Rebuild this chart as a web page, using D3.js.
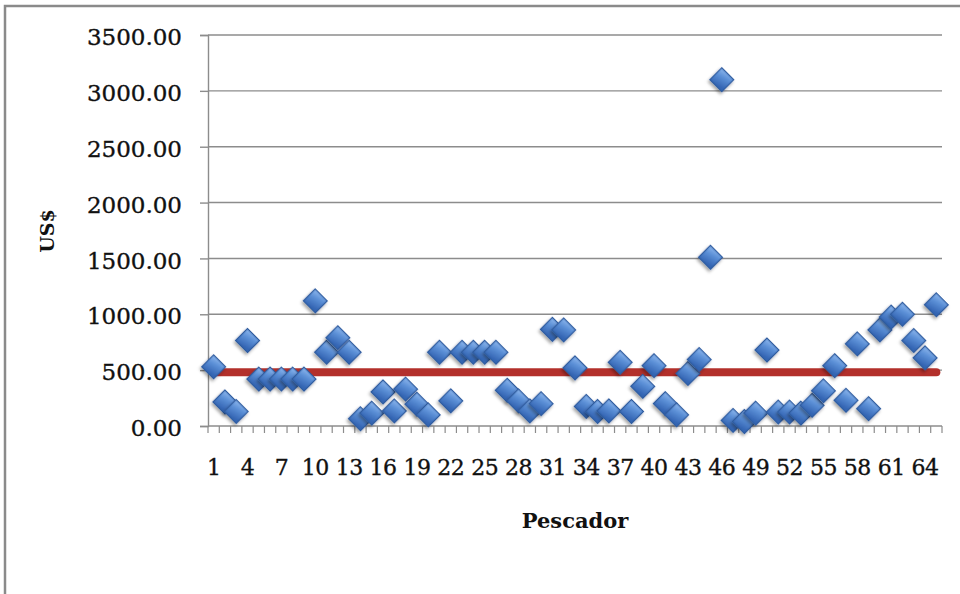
<!DOCTYPE html>
<html>
<head>
<meta charset="utf-8">
<script src="https://cdn.jsdelivr.net/npm/d3@7"></script>
<style>
  html, body { margin: 0; padding: 0; background: #ffffff; }
  svg { display: block; }
</style>
</head>
<body>
<div id="chart"></div>
<script>
// ---- data ----
const categories = d3.range(1, 66).map(String);
const values = [
  530, 215, 130, 765, 420, 420, 420, 420, 420, 1120,
  660, 790, 660, 65, 115, 305, 135, 330, 195, 100,
  660, 225, 660, 660, 660, 660, 320, 225, 135, 200,
  865, 860, 520, 175, 130, 135, 570, 130, 355, 540,
  200, 100, 470, 595, 1510, 3100, 50, 40, 115, 680,
  125, 125, 115, 185, 315, 540, 230, 735, 155, 860,
  975, 1000, 765, 610, 1085
];
const promedio = 482;
const yTicks = [0, 500, 1000, 1500, 2000, 2500, 3000, 3500];
const xTickLabels = categories.filter((d, i) => i % 3 === 0);
const yTitle = "US$";
const xTitle = "Pescador";

// ---- layout ----
const W = 960, H = 594;
const plot = { left: 208, right: 942, top: 35, bottom: 426 };

const svg = d3.select("#chart").append("svg")
  .attr("width", W).attr("height", H);

const defs = svg.append("defs");
const grad = defs.append("linearGradient").attr("id", "dgrad")
  .attr("x1", "0").attr("y1", "0").attr("x2", "0.3").attr("y2", "1");
grad.append("stop").attr("offset", "0%").attr("stop-color", "#8fb8ee");
grad.append("stop").attr("offset", "45%").attr("stop-color", "#5b8fd6");
grad.append("stop").attr("offset", "100%").attr("stop-color", "#3566b4");
const shadow = defs.append("filter").attr("id", "shadow")
  .attr("x", "-50%").attr("y", "-50%").attr("width", "200%").attr("height", "200%");
shadow.append("feDropShadow").attr("dx", 0.5).attr("dy", 2.5)
  .attr("stdDeviation", 1.6).attr("flood-color", "#000").attr("flood-opacity", 0.35);

// outer frame
svg.append("rect")
  .attr("x", 5).attr("y", 6).attr("width", 1000).attr("height", 700)
  .attr("fill", "none").attr("stroke", "#8a8a8a").attr("stroke-width", 2.5);

// ---- scales ----
const x = d3.scaleBand().domain(categories).range([plot.left, plot.right]).padding(0);
const y = d3.scaleLinear().domain([0, 3500]).range([plot.bottom, plot.top]);

// gridlines
svg.append("g").selectAll("line").data(yTicks.filter(d => d > 0)).join("line")
  .attr("x1", plot.left).attr("x2", plot.right)
  .attr("y1", d => y(d)).attr("y2", d => y(d))
  .attr("stroke", "#8c8c8c").attr("stroke-width", 1.4);

// y axis
const yAxis = svg.append("g")
  .attr("transform", `translate(${plot.left},0)`)
  .call(d3.axisLeft(y).tickValues(yTicks).tickSize(8).tickPadding(18)
    .tickFormat(d3.format(".2f")));
yAxis.select(".domain").attr("stroke", "#8c8c8c").attr("stroke-width", 1.4);
yAxis.selectAll(".tick line").attr("stroke", "#8c8c8c").attr("stroke-width", 1.4);
yAxis.selectAll(".tick text")
  .attr("font-family", "'DejaVu Serif', serif").attr("font-size", 23)
  .attr("fill", "#111").attr("stroke", "#111").attr("stroke-width", 0.35)
  .attr("dy", "0.42em");

// x axis
const xAxisG = svg.append("g").attr("transform", `translate(0,${plot.bottom})`);
xAxisG.append("line").attr("x1", plot.left).attr("x2", plot.right)
  .attr("y1", 0).attr("y2", 0).attr("stroke", "#8c8c8c").attr("stroke-width", 1.4);
const boundaries = categories.map(c => x(c)).concat([x(categories[categories.length - 1]) + x.bandwidth()]);
xAxisG.selectAll("line.tk").data(boundaries).join("line").attr("class", "tk")
  .attr("x1", d => d).attr("x2", d => d).attr("y1", 0).attr("y2", 7)
  .attr("stroke", "#8c8c8c").attr("stroke-width", 1.2);
xAxisG.selectAll("text").data(xTickLabels).join("text")
  .attr("x", d => x(d) + x.bandwidth() / 2)
  .attr("y", 49)
  .attr("text-anchor", "middle")
  .attr("font-family", "'DejaVu Serif', serif").attr("font-size", 22)
  .attr("letter-spacing", "-0.5")
  .attr("fill", "#111").attr("stroke", "#111").attr("stroke-width", 0.35)
  .text(d => d);

// mean line
const line = d3.line().x(d => x(d) + x.bandwidth() / 2).y(() => y(promedio));
svg.append("path")
  .datum([categories[0], categories[categories.length - 1]])
  .attr("d", line)
  .attr("fill", "none").attr("stroke", "#b3302b").attr("stroke-width", 8)
  .attr("stroke-linecap", "round");

// diamonds
const sym = d3.symbol().type(d3.symbolSquare).size(285);
svg.append("g").selectAll("path").data(values).join("path")
  .attr("d", sym)
  .attr("transform", (d, i) => `translate(${x(categories[i]) + x.bandwidth() / 2},${y(d)}) rotate(45)`)
  .attr("fill", "url(#dgrad)")
  .attr("stroke", "#2f5c9f").attr("stroke-width", 1.3)
  .attr("filter", "url(#shadow)");

// titles
svg.append("text")
  .attr("transform", `translate(54,231) rotate(-90)`)
  .attr("text-anchor", "middle")
  .attr("font-family", "'DejaVu Serif', serif").attr("font-weight", "bold")
  .attr("font-size", 19).attr("fill", "#111")
  .text(yTitle);
svg.append("text")
  .attr("x", (plot.left + plot.right) / 2).attr("y", 528)
  .attr("text-anchor", "middle")
  .attr("font-family", "'DejaVu Serif', serif").attr("font-weight", "bold")
  .attr("font-size", 21).attr("fill", "#111")
  .text(xTitle);
</script>
</body>
</html>
